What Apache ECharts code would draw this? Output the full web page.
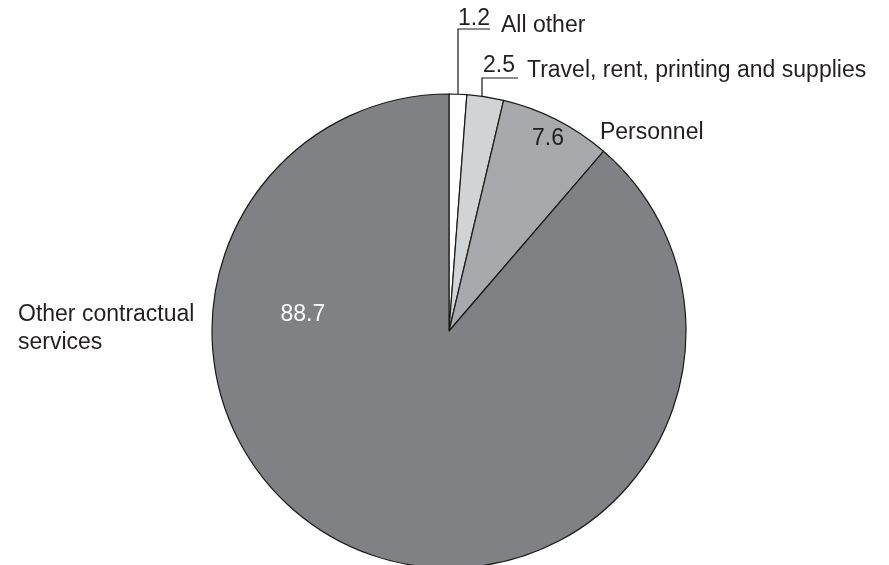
<!DOCTYPE html>
<html><head><meta charset="utf-8">
<script src="https://cdn.jsdelivr.net/npm/echarts@6/dist/echarts.min.js"></script>
<style>html,body{margin:0;padding:0;background:#fff}#c{width:889px;height:565px}</style>
</head><body><div id="c"></div>
<script>
// ---- data ----
const categories = ['All other', 'Travel, rent, printing and supplies', 'Personnel', 'Other contractual\nservices'];
const values = [1.2, 2.5, 7.6, 88.7];
const valueLabels = ['1.2', '2.5', '7.6', '88.7'];

// ---- styling / positions (kept apart from data) ----
const sliceColors = ['#ffffff', '#d1d3d4', '#a7a9ac', '#808184'];
const FONT = '"Liberation Sans", Arial, Helvetica, sans-serif';
const TXT = '#231f20';
const labelPos = [
  { x: 458, y: 19, line: [[458, 113], [458, 29], [490, 29]] },
  { x: 483, y: 66, line: [[482, 118], [482, 78], [518, 78]] },
  { x: 532, y: 133, line: null },
  { x: 18, y: 329, line: null }
];

const base = { fontFamily: FONT, fontSize: 23, color: TXT, verticalAlign: 'middle' };
const rich = {
  v0: Object.assign({}, base, { lineHeight: 24 }),
  n0: Object.assign({}, base, { lineHeight: 24, padding: [14, 0, 0, 11] }),
  v1: Object.assign({}, base, { lineHeight: 24 }),
  n1: Object.assign({}, base, { lineHeight: 24, padding: [10, 0, 0, 12] }),
  v2: Object.assign({}, base, { lineHeight: 24, padding: [12, 0, 0, 0] }),
  n2: Object.assign({}, base, { lineHeight: 24, padding: [0, 0, 0, 36] }),
  v3: Object.assign({}, base, { lineHeight: 28, color: '#ffffff', padding: [0, 0, 0, 86] }),
  n3: Object.assign({}, base, { lineHeight: 28 })
};

function fmt(p) {
  const i = p.dataIndex;
  if (i === 3) {
    const parts = categories[3].split('\n');
    return '{n3|' + parts[0] + '}{v3|' + valueLabels[3] + '}\n{n3|' + parts[1] + '}';
  }
  return '{v' + i + '|' + valueLabels[i] + '}{n' + i + '|' + categories[i] + '}';
}

const data = values.map((v, i) => ({
  name: categories[i],
  value: v,
  itemStyle: { color: sliceColors[i] },
  labelLine: { show: !!labelPos[i].line }
}));

const chart = echarts.init(document.getElementById('c'), null, { renderer: 'canvas' });
chart.setOption({
  animation: false,
  backgroundColor: '#ffffff',
  series: [{
    type: 'pie',
    center: [449, 331],
    radius: 237,
    startAngle: 90,
    clockwise: true,
    avoidLabelOverlap: false,
    silent: true,
    data: data,
    itemStyle: { borderColor: '#1a1a1a', borderWidth: 1.2 },
    label: { show: true, position: 'outside', formatter: fmt, rich: rich, fontFamily: FONT },
    labelLine: { show: true, lineStyle: { color: '#1a1a1a', width: 1.2 }, smooth: false },
    labelLayout: function (params) {
      const lp = labelPos[params.dataIndex];
      const out = { x: lp.x, y: lp.y, align: 'left', verticalAlign: 'middle' };
      if (lp.line) out.labelLinePoints = lp.line;
      return out;
    }
  }]
});
</script></body></html>
